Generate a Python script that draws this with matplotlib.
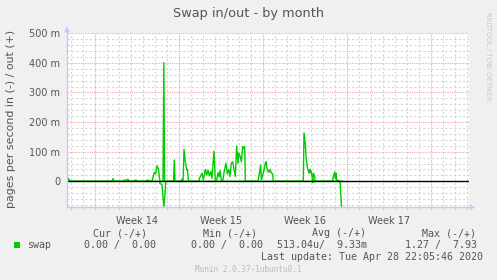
import matplotlib
matplotlib.use("Agg")
import matplotlib.pyplot as plt
import numpy as np

W, H = 497, 280

# ---- data (values in milli pages/s, time in days from left edge) ----
out_days = [0.00, 0.04, 0.13, 0.21, 0.29, 3.75, 3.83, 3.92, 4.67, 4.75, 4.92, 5.08, 5.17,
            5.58, 5.67, 5.83, 5.92, 6.58, 6.67, 6.83, 6.92, 7.08, 7.21, 7.29, 7.38, 7.50,
            7.63, 7.71, 7.75, 8.00, 8.07, 8.13, 8.88, 8.94, 9.00, 9.50, 9.58, 9.67, 9.75,
            9.86, 9.98, 10.03, 10.13, 11.00, 11.03, 11.14, 11.25, 11.36, 11.53, 11.64, 11.75,
            11.86, 11.98, 12.08, 12.25, 12.36, 12.48, 12.58, 12.69, 12.75, 12.86, 12.98,
            13.08, 13.25, 13.36, 13.48, 13.58, 13.69, 13.81, 13.92, 14.03, 14.14, 14.25,
            14.31, 14.42, 14.53, 14.64, 14.69, 14.81, 14.86, 15.92, 16.14, 16.19, 16.31,
            16.42, 16.53, 16.58, 16.69, 16.81, 16.92, 17.03, 17.14, 17.19, 19.69, 19.75,
            19.86, 19.92, 19.98, 20.08, 20.19, 20.25, 20.31, 20.36, 20.42, 20.48, 20.53,
            20.64, 20.67, 22.14, 22.19, 22.31, 22.36, 22.42, 22.48, 22.58, 22.69, 22.92]
out_vals = [0, 5, 10, 3, 0, 0, 9, 0, 0, 4, 3, 7, 0,
            0, 4, 3, 0, 0, 4, 3, 0, 0, 20, 30, 25, 52,
            40, 10, 0, 0, 401, 0, 0, 72, 0, 0, 7, 0, 108,
            66, 38, 40, 0, 0, 10, 18, 27, 5, 40, 21, 38,
            18, 33, 10, 102, 0, 5, 29, 15, 36, 4, 0,
            29, 61, 25, 40, 16, 61, 66, 40, 16, 119, 61,
            95, 85, 66, 117, 110, 117, 0, 0, 55, 5, 21,
            38, 61, 66, 38, 30, 40, 28, 25, 0, 0, 164,
            127, 83, 61, 38, 27, 40, 30, 33, 16, 0, 27,
            16, 0, 0, 16, 31, 10, 27, 0, 4, 0, 0]

in_days = [0.00, 7.71, 7.75, 7.92, 8.07, 8.17, 8.22, 20.42, 20.48, 20.53, 22.75, 22.88]
in_vals = [0, 0, -7, -12, -87, -40, 0, 0, -4, 0, 0, -88]

y_major = [0, 100, 200, 300, 400, 500]
y_labels = ["0", "100 m", "200 m", "300 m", "400 m", "500 m"]
week_labels = ["Week 14", "Week 15", "Week 16", "Week 17"]
legend_headers = ["Cur (-/+)", "Min (-/+)", "Avg (-/+)", "Max (-/+)"]
legend_values = ["0.00 /  0.00", "0.00 /  0.00", "513.04u/  9.33m", "1.27 /  7.93"]

first_major = 2.31
xmax = 33.5
ymin, ymax = -88, 500

fig = plt.figure(figsize=(W / 100, H / 100), dpi=100)
fig.patch.set_facecolor("#F0F0F0")

L, R, T, B = 67, 469, 33.3, 207.3
ax = fig.add_axes([L / W, 1 - B / H, (R - L) / W, (B - T) / H])
ax.set_facecolor("white")
ax.set_xlim(0, xmax)
ax.set_ylim(ymin, ymax)
for s in ax.spines.values():
    s.set_visible(False)

# grid
minor_col = "#D6D6D6"
major_col = "#F2A8A8"
majors_x = [first_major + 7 * k for k in range(5)]
d = first_major - int(first_major)
xs_minor = [d + k for k in range(0, 34) if d + k < xmax]
for x in xs_minor:
    if min(abs(x - m) for m in majors_x) < 0.05:
        continue
    ax.axvline(x, color=minor_col, lw=0.8, ls=(0, (2, 2)), zorder=1)
for yv in range(-80, 500, 20):
    if yv % 100 == 0:
        continue
    ax.axhline(yv, color=minor_col, lw=0.8, ls=(0, (2, 2)), zorder=1)
for x in majors_x:
    ax.axvline(x, color=major_col, lw=0.8, ls=(0, (1, 1)), zorder=1.5)
for yv in y_major[1:]:
    ax.axhline(yv, color=major_col, lw=0.8, ls=(0, (1, 1)), zorder=1.5)

# data
ax.plot(out_days, out_vals, color="#00CC00", lw=1.0, zorder=3)
ax.plot(in_days, in_vals, color="#00CC00", lw=1.0, zorder=3)
ax.axhline(0, color="black", lw=1.0, zorder=4)

# ticks
ax.set_yticks(y_major)
ax.set_yticklabels(y_labels)
ax.tick_params(axis="y", length=0, pad=5, labelsize=7, labelcolor="#555555")
ax.set_xticks(xs_minor)
ax.set_xticklabels([])
ax.tick_params(axis="x", which="major", length=2, color="#CCCCCC", direction="out")
ax.set_xticks([m + 3.5 for m in majors_x[:4]], minor=True)
ax.set_xticklabels(week_labels, minor=True)
ax.tick_params(axis="x", which="minor", length=0, pad=6, labelsize=7, labelcolor="#555555")

# axis lines with arrows (figure coords)
acol = "#C8C8F8"
fig.add_artist(plt.Line2D([L / W, (R + 1) / W], [1 - B / H, 1 - B / H], color=acol, lw=1))
fig.add_artist(plt.Line2D([L / W, L / W], [1 - B / H, 1 - (T - 2) / H], color=acol, lw=1))
fig.add_artist(plt.Polygon([[(R + 1) / W, 1 - (B - 3) / H], [(R + 1) / W, 1 - (B + 3) / H],
                            [(R + 6) / W, 1 - B / H]], closed=True, color=acol, lw=0))
fig.add_artist(plt.Polygon([[(L - 3) / W, 1 - (T - 1) / H], [(L + 3) / W, 1 - (T - 1) / H],
                            [L / W, 1 - (T - 7) / H]], closed=True, color=acol, lw=0))

def ftext(x, y, s, **kw):
    fig.text(x / W, 1 - y / H, s, **kw)

ftext(248.5, 13, "Swap in/out - by month", ha="center", va="center", fontsize=9.3, color="#555555")
ftext(11, 119, "pages per second in (-) / out (+)", ha="center", va="center",
      rotation=90, fontsize=7.9, color="#555555")
ftext(488, 56, "RRDTOOL / TOBI OETIKER", ha="center", va="center", rotation=270,
      fontsize=5, color="#C8C8C8")

mono = dict(family="DejaVu Sans Mono", fontsize=7.2, color="#555555", va="center")
hdr_right = [147, 257, 366, 476]
for s, xr in zip(legend_headers, hdr_right):
    ftext(xr, 233, s, ha="right", **mono)
val_right = [156, 263, 367, 477]
for s, xr in zip(legend_values, val_right):
    ftext(xr, 245, s, ha="right", **mono)
fig.add_artist(plt.Rectangle((14 / W, 1 - 248 / H), 6 / W, 6 / H, color="#00CC00", lw=0))
ftext(27, 245, "swap", ha="left", **mono)
ftext(483, 257, "Last update: Tue Apr 28 22:05:46 2020", ha="right", **mono)
ftext(248, 269.5, "Munin 2.0.37-1ubuntu0.1", ha="center", va="center",
      family="DejaVu Sans Mono", fontsize=5.6, color="#BBBBBB")

fig.savefig("out.png", dpi=100, facecolor=fig.get_facecolor())
